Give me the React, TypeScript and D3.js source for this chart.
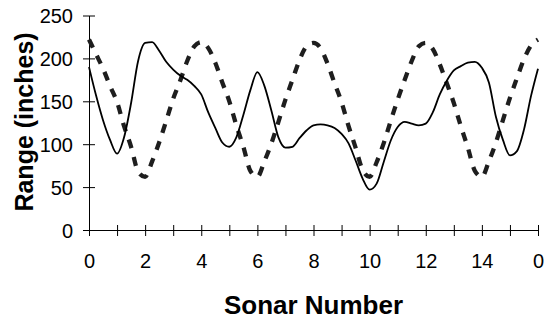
import React from "react";
import * as d3 from "d3";

// readings every quarter sonar step, sonar 0 .. 15 and back to 0
const measured = [
  190, 157, 128, 105, 89, 108, 148, 197, 218, 219, 209, 196, 187, 180, 175, 168,
  158, 137, 119, 102, 97, 108, 134, 163, 184, 168, 139, 108, 96, 97, 107, 116,
  122, 123, 122, 119, 112, 101, 81, 60, 47, 54, 79, 104, 120, 126, 124, 122,
  124, 137, 158, 174, 186, 191, 195, 196, 189, 172, 132, 105, 87, 92, 117, 156,
  188,
];

const expected = [
  222, 205, 188, 168, 149, 121, 97, 68, 62, 80, 102, 127, 153, 174, 197, 214,
  219, 212, 195, 172, 150, 122, 97, 69, 62, 80, 101, 126, 152, 175, 198, 214,
  218, 212, 194, 171, 149, 121, 96, 70, 62, 79, 101, 127, 152, 175, 197, 214,
  218, 211, 193, 171, 148, 121, 96, 69, 62, 80, 102, 128, 154, 177, 199, 215,
  222,
];

const stepsPerSonar = 4;
const sonarTicks = d3.range(0, 17);
const sonarLabel = (i: number) => (i % 2 === 0 ? String(i % 16) : "");
const rangeTicks = [0, 50, 100, 150, 200, 250];

const FONT = "'Liberation Sans', Arial, sans-serif";

const SonarChart = () => {
  const ref = React.useRef<SVGSVGElement>(null);
  const width = 547, height = 320;
  const plot = { left: 89, right: 538, top: 15.5, bottom: 230 };

  React.useEffect(() => {
    const svg = d3.select(ref.current);
    svg.selectAll("*").remove();

    const x = d3.scaleLinear([0, 16], [plot.left, plot.right]);
    const y = d3.scaleLinear([0, 250], [plot.bottom, plot.top]);

    // x axis
    const gx = svg.append("g")
      .attr("transform", `translate(0,${plot.bottom})`)
      .call(d3.axisBottom(x).tickValues(sonarTicks).tickSizeOuter(0).tickFormat(d => sonarLabel(+d)));
    gx.selectAll(".tick line").attr("y1", -5).attr("y2", 6);
    gx.selectAll(".tick text").attr("y", 38).attr("dy", 0)
      .attr("font-size", 20).attr("font-family", FONT).attr("fill", "#000");
    gx.select(".domain").attr("stroke", "#000");

    // y axis
    const gy = svg.append("g")
      .attr("transform", `translate(${plot.left},0)`)
      .call(d3.axisLeft(y).tickValues(rangeTicks).tickSizeOuter(0));
    gy.selectAll(".tick line").attr("x1", -6).attr("x2", 6);
    gy.selectAll(".tick text").attr("x", -16).attr("dy", "0.36em")
      .attr("font-size", 20).attr("font-family", FONT).attr("fill", "#000");
    gy.select(".domain").attr("stroke", "#000");

    const line = d3.line<number>()
      .x((_, i) => x(i / stepsPerSonar))
      .y(d => y(d))
      .curve(d3.curveMonotoneX);

    svg.append("path")
      .attr("d", line(expected))
      .attr("fill", "none")
      .attr("stroke", "#1e1e1e")
      .attr("stroke-width", 4.3)
      .attr("stroke-dasharray", "9 9");

    svg.append("path")
      .attr("d", line(measured))
      .attr("fill", "none")
      .attr("stroke", "#000")
      .attr("stroke-width", 1.8)
      .attr("stroke-linejoin", "round");

    svg.append("text")
      .attr("x", (plot.left + plot.right) / 2)
      .attr("y", 314)
      .attr("text-anchor", "middle")
      .attr("font-family", FONT)
      .attr("font-weight", "bold")
      .attr("font-size", 26)
      .text("Sonar Number");

    svg.append("text")
      .attr("transform", "translate(33,122) rotate(-90)")
      .attr("text-anchor", "middle")
      .attr("font-family", FONT)
      .attr("font-weight", "bold")
      .attr("font-size", 25)
      .text("Range (inches)");
  }, []);

  return (
    <svg ref={ref} width={width} height={height}
      style={{ position: "absolute", left: 0, top: 0, background: "#fff" }} />
  );
};

export default function App() {
  return <SonarChart />;
}
